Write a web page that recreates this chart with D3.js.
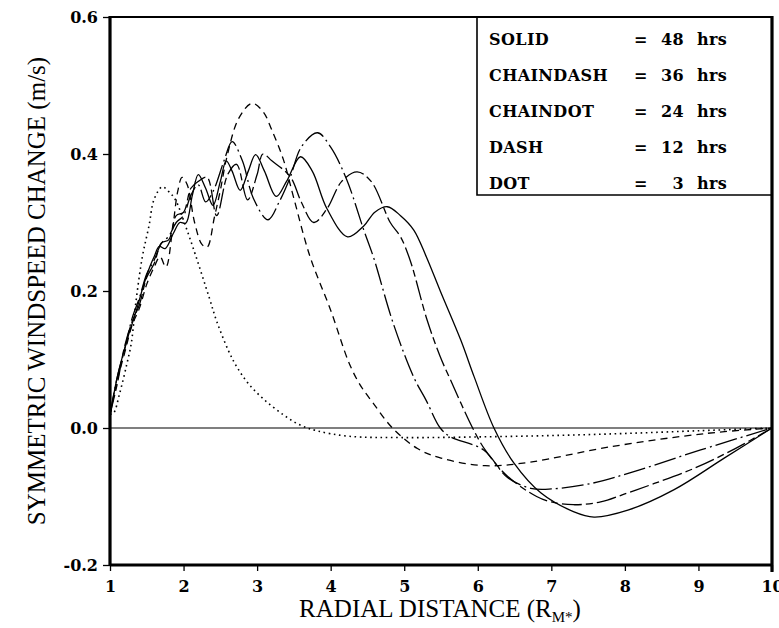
<!DOCTYPE html>
<html>
<head>
<meta charset="utf-8">
<script src="https://cdn.jsdelivr.net/npm/d3@7"></script>
<style>
  body { margin: 0; background: #fff; }
  .tick text { font-family: "DejaVu Serif", serif; font-weight: bold; font-size: 16px; fill: #000; }
  .tick line { stroke: #000; stroke-width: 1.3; }
  .title { font-family: "Liberation Serif", "Times New Roman", serif; font-size: 25px; fill: #000; }
  .leg { font-family: "DejaVu Serif", serif; font-weight: bold; font-size: 16px; letter-spacing: 0.4px; fill: #000; }
</style>
</head>
<body>
<div id="chart"></div>
<script>
/* CONSTANTS */
const width = 779,
  height = 628,
  margin = { top: 17, bottom: 63, left: 110, right: 7 };

/* DATA */
const xTicks = [1, 2, 3, 4, 5, 6, 7, 8, 9, 10];
const yTicks = [-0.2, 0.0, 0.2, 0.4, 0.6];
const legendNames = ["SOLID", "CHAINDASH", "CHAINDOT", "DASH", "DOT"];
const legendHours = [48, 36, 24, 12, 3];

// 48 hrs
const solid48 = [[1.0,0.016],[1.09,0.07],[1.23,0.128],[1.36,0.172],[1.45,0.206],[1.54,0.235],[1.6,0.25],
  [1.67,0.265],[1.75,0.262],[1.86,0.284],[1.95,0.30],[2.03,0.299],[2.12,0.34],[2.2,0.37],[2.3,0.35],
  [2.4,0.325],[2.5,0.36],[2.58,0.39],[2.66,0.375],[2.77,0.347],[2.88,0.375],[2.98,0.399],[3.1,0.375],
  [3.26,0.338],[3.4,0.36],[3.59,0.396],[3.75,0.375],[3.95,0.32],[4.23,0.279],[4.45,0.295],[4.6,0.315],
  [4.77,0.323],[4.95,0.31],[5.13,0.289],[5.3,0.25],[5.49,0.2],[5.77,0.128],[5.95,0.075],[6.22,0.0],
  [6.49,-0.051],[6.86,-0.095],[7.3,-0.122],[7.58,-0.13],[8.04,-0.12],[8.67,-0.09],[9.35,-0.044],[10,0]];
// 36 hrs
const chaindash36 = [[1.0,0.02],[1.1,0.065],[1.2,0.12],[1.3,0.155],[1.4,0.18],[1.5,0.22],[1.6,0.24],
  [1.7,0.27],[1.8,0.275],[1.9,0.31],[2.0,0.315],[2.1,0.35],[2.2,0.36],[2.32,0.366],[2.45,0.31],[2.6,0.37],
  [2.72,0.385],[2.87,0.333],[3.0,0.37],[3.08,0.40],[3.2,0.39],[3.45,0.367],[3.6,0.33],[3.77,0.30],
  [3.95,0.32],[4.15,0.36],[4.36,0.374],[4.55,0.36],[4.81,0.30],[4.95,0.279],[5.08,0.245],[5.31,0.158],
  [5.49,0.104],[5.63,0.07],[5.93,0.0],[6.1,-0.032],[6.4,-0.07],[6.8,-0.1],[7.0,-0.108],[7.3,-0.112],
  [7.67,-0.108],[8.03,-0.095],[8.4,-0.081],[8.94,-0.059],[9.5,-0.03],[10,0]];
// 24 hrs
const chaindot24 = [[1.0,0.02],[1.1,0.075],[1.2,0.115],[1.3,0.16],[1.4,0.19],[1.5,0.225],[1.6,0.245],
  [1.7,0.27],[1.8,0.28],[1.9,0.30],[2.0,0.31],[2.1,0.34],[2.2,0.355],[2.3,0.33],[2.4,0.345],[2.55,0.39],
  [2.66,0.418],[2.8,0.39],[2.95,0.335],[3.15,0.304],[3.3,0.33],[3.45,0.366],[3.6,0.41],[3.82,0.431],
  [4.0,0.41],[4.22,0.362],[4.45,0.289],[4.58,0.25],[4.85,0.153],[5.13,0.074],[5.3,0.04],[5.49,0.0],
  [5.63,-0.013],[6.08,-0.032],[6.4,-0.072],[6.72,-0.088],[7.0,-0.089],[7.54,-0.081],[8.2,-0.061],
  [9.03,-0.032],[10,0]];
// 12 hrs
const dash12 = [[1.0,0.02],[1.1,0.07],[1.2,0.11],[1.3,0.15],[1.4,0.175],[1.5,0.21],[1.6,0.235],[1.68,0.25],
  [1.76,0.235],[1.85,0.29],[1.92,0.345],[1.98,0.366],[2.05,0.355],[2.15,0.30],[2.25,0.268],[2.32,0.264],
  [2.42,0.308],[2.5,0.347],[2.59,0.396],[2.75,0.452],[2.93,0.474],[3.08,0.462],[3.2,0.435],[3.36,0.391],
  [3.5,0.335],[3.72,0.25],[4.0,0.172],[4.25,0.095],[4.4,0.063],[4.58,0.036],[4.84,0.0],[5.18,-0.03],
  [5.5,-0.044],[6.1,-0.055],[6.7,-0.05],[7.77,-0.028],[9.1,-0.008],[10,0]];
// 3 hrs
const dot3 = [[1.0,0.02],[1.05,0.022],[1.13,0.05],[1.23,0.094],[1.29,0.124],[1.35,0.182],[1.44,0.25],
  [1.53,0.295],[1.6,0.334],[1.71,0.352],[1.8,0.345],[1.89,0.333],[2.03,0.294],[2.17,0.25],[2.35,0.19],
  [2.45,0.156],[2.61,0.113],[2.72,0.09],[2.88,0.065],[3.09,0.042],[3.36,0.019],[3.59,0.004],[3.81,-0.004],
  [4.24,-0.012],[5.0,-0.014],[6.0,-0.013],[7.0,-0.011],[8.0,-0.008],[9.0,-0.004],[10,0]];

const series = [solid48, chaindash36, chaindot24, dash12, dot3];
const dashes = [null, "20,4,7,4", "22,4,2,4", "7,5", "1.6,3.6"];

/* SVG */
const svg = d3.select("#chart")
  .append("svg")
  .attr("width", width)
  .attr("height", height);

/* SCALES */
const xScale = d3.scaleLinear()
  .domain([1, 10])
  .range([margin.left, width - margin.right]);

const yScale = d3.scaleLinear()
  .domain([-0.2, 0.6])
  .range([height - margin.bottom, margin.top]);

/* AXES */
const xAxis = d3.axisBottom(xScale)
  .tickValues(xTicks)
  .tickSize(6)
  .tickPadding(10)
  .tickFormat(d3.format("d"));

const yAxis = d3.axisLeft(yScale)
  .tickValues(yTicks)
  .tickSize(7)
  .tickPadding(5)
  .tickFormat(d => d3.format(".1f")(d).replace("−", "-"));

svg.append("g")
  .attr("class", "axis x-axis")
  .attr("transform", `translate(0,${height - margin.bottom})`)
  .call(xAxis)
  .call(g => g.select(".domain").remove());

svg.append("g")
  .attr("class", "axis y-axis")
  .attr("transform", `translate(${margin.left},0)`)
  .call(yAxis)
  .call(g => g.select(".domain").remove());

// zero line
svg.append("line")
  .attr("x1", xScale(1)).attr("x2", xScale(10))
  .attr("y1", yScale(0)).attr("y2", yScale(0))
  .attr("stroke", "#000").attr("stroke-width", 1.2);

/* CURVES */
const line = d3.line()
  .x(d => xScale(d[0]))
  .y(d => yScale(d[1]))
  .curve(d3.curveCatmullRom.alpha(0.5));

svg.selectAll(".curve")
  .data(series)
  .join("path")
  .attr("class", "curve")
  .attr("d", line)
  .attr("fill", "none")
  .attr("stroke", "#000")
  .attr("stroke-width", (d, i) => i === 4 ? 1.6 : 1.3)
  .attr("stroke-dasharray", (d, i) => dashes[i]);

/* FRAME */
const x0 = xScale(1), x1 = xScale(10), y0 = yScale(0.6), y1 = yScale(-0.2);
svg.append("line").attr("x1", x0).attr("x2", x0).attr("y1", y0 - 1).attr("y2", y1 + 1)
  .attr("stroke", "#000").attr("stroke-width", 3.2);
svg.append("line").attr("x1", x1).attr("x2", x1).attr("y1", y0 - 1).attr("y2", y1 + 7)
  .attr("stroke", "#000").attr("stroke-width", 3.2);
svg.append("line").attr("x1", x0).attr("x2", x1).attr("y1", y0).attr("y2", y0)
  .attr("stroke", "#000").attr("stroke-width", 2.2);
svg.append("line").attr("x1", x0).attr("x2", x1).attr("y1", y1).attr("y2", y1)
  .attr("stroke", "#000").attr("stroke-width", 3);

/* LEGEND */
const legLeft = 477, legBottom = 195;
svg.append("path")
  .attr("d", `M${legLeft},${y0} V${legBottom} H${x1}`)
  .attr("fill", "none")
  .attr("stroke", "#000")
  .attr("stroke-width", 1.6);

const rows = svg.selectAll(".legrow")
  .data(legendNames)
  .join("g")
  .attr("class", "legrow")
  .attr("transform", (d, i) => `translate(0,${45 + i * 36})`);

rows.append("text").attr("class", "leg").attr("x", 489).text(d => d);
rows.append("text").attr("class", "leg").attr("x", 634).text("=");
rows.append("text").attr("class", "leg").attr("x", 684).attr("text-anchor", "end")
  .text((d, i) => legendHours[i]);
rows.append("text").attr("class", "leg").attr("x", 697).text("hrs");

/* TITLES */
const xt = svg.append("text")
  .attr("class", "title")
  .attr("x", 440)
  .attr("y", 617)
  .attr("text-anchor", "middle");
xt.append("tspan").text("RADIAL DISTANCE (R");
xt.append("tspan").attr("font-size", "15px").attr("dy", 5).text("M*");
xt.append("tspan").attr("dy", -5).text(")");

svg.append("text")
  .attr("class", "title")
  .attr("transform", "translate(45,291) rotate(-90)")
  .attr("text-anchor", "middle")
  .attr("font-size", "25.5px")
  .text("SYMMETRIC WINDSPEED CHANGE (m/s)");
</script>
</body>
</html>
